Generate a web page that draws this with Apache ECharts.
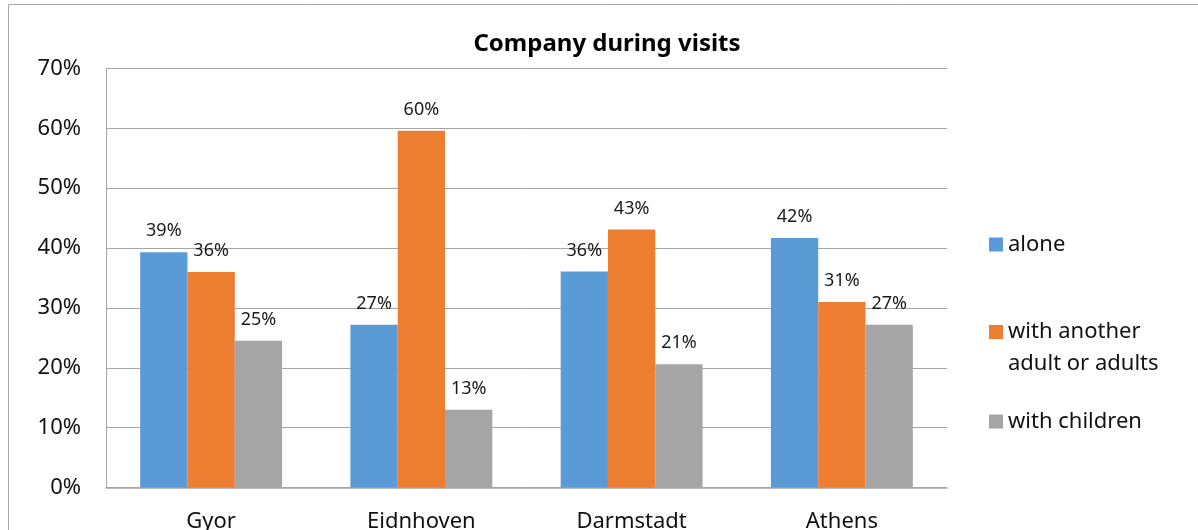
<!DOCTYPE html>
<html>
<head>
<meta charset="utf-8">
<script src="https://cdn.jsdelivr.net/npm/echarts@6/dist/echarts.min.js"></script>
<style>
  html, body { margin: 0; padding: 0; background: #fff; }
  #chart { width: 1198px; height: 530px; }
</style>
</head>
<body>
<div id="chart"></div>
<script>
// chart values (percent)
const cities = ['Gyor', 'Eidnhoven', 'Darmstadt', 'Athens'];
const alone = [39.3, 27.2, 36.1, 41.7];
const withAdults = [36.0, 59.6, 43.1, 31.0];
const withChildren = [24.5, 13.0, 20.6, 27.2];
const yTicks = [0, 10, 20, 30, 40, 50, 60, 70];

const seriesNames = ['alone', 'with another\nadult or adults', 'with children'];
const colors = ['#5B9BD5', '#ED7D31', '#A5A5A5'];
const fontFamily = '"Noto Sans", "Open Sans", sans-serif';

let chart = echarts.init(document.getElementById('chart'));

function barSeries (name, data, color)
{
  return {
    name: name,
    type: 'bar',
    data: data,
    barGap: '0%',
    barCategoryGap: '32.5%',
    itemStyle: { color: color },
    label: {
      show: true,
      position: 'top',
      distance: 12,
      fontFamily: fontFamily,
      fontSize: 18,
      color: '#1a1a1a',
      formatter: p => Math.round(p.value) + '%'
    },
    emphasis: { disabled: true }
  };
}

// one legend per item so each marker sits where the reference has it
function legendItem (name, top, formatter)
{
  return {
    orient: 'vertical',
    left: 984,
    top: top,
    itemWidth: 14,
    itemHeight: 14,
    icon: 'rect',
    selectedMode: false,
    data: [name],
    formatter: formatter,
    textStyle: {
      fontFamily: fontFamily,
      fontSize: 22,
      lineHeight: 32,
      color: '#111'
    }
  };
}

let option = {
  animation: false,
  color: colors,
  title: {
    text: 'Company during visits',
    left: 602,
    top: 27,
    textAlign: 'center',
    textStyle: {
      fontFamily: fontFamily,
      fontWeight: 'bold',
      fontSize: 24,
      color: '#000'
    }
  },
  graphic: [
    {
      type: 'rect',
      shape: { x: 8.5, y: 4.5, width: 1400, height: 700 },
      style: { fill: 'none', stroke: '#a6a6a6', lineWidth: 1 },
      silent: true,
      z: -10
    }
  ],
  legend: [
    legendItem(seriesNames[0], 223.5, n => n),
    // leading blank line keeps the marker level with the first text line
    legendItem(seriesNames[1], 279, n => ' \n' + n),
    legendItem(seriesNames[2], 400.5, n => n)
  ],
  grid: {
    left: 106,
    right: 251,
    top: 68.5,
    bottom: 42.5,
    outerBoundsMode: 'none'
  },
  xAxis: {
    type: 'category',
    data: cities,
    axisTick: { show: false },
    axisLine: { lineStyle: { color: '#a6a6a6', width: 1.5 } },
    axisLabel: {
      margin: 23,
      fontFamily: fontFamily,
      fontSize: 22,
      color: '#111'
    }
  },
  yAxis: {
    type: 'value',
    min: yTicks[0],
    max: yTicks[yTicks.length - 1],
    interval: 10,
    axisLine: { show: true, lineStyle: { color: '#a6a6a6' } },
    axisTick: { show: false },
    splitLine: { lineStyle: { color: '#a6a6a6', width: 1 } },
    axisLabel: {
      margin: 25,
      fontFamily: fontFamily,
      fontSize: 22,
      color: '#111',
      formatter: v => v + '%'
    }
  },
  series: [
    barSeries(seriesNames[0], alone, colors[0]),
    barSeries(seriesNames[1], withAdults, colors[1]),
    barSeries(seriesNames[2], withChildren, colors[2])
  ]
};

chart.setOption(option);
</script>
</body>
</html>
